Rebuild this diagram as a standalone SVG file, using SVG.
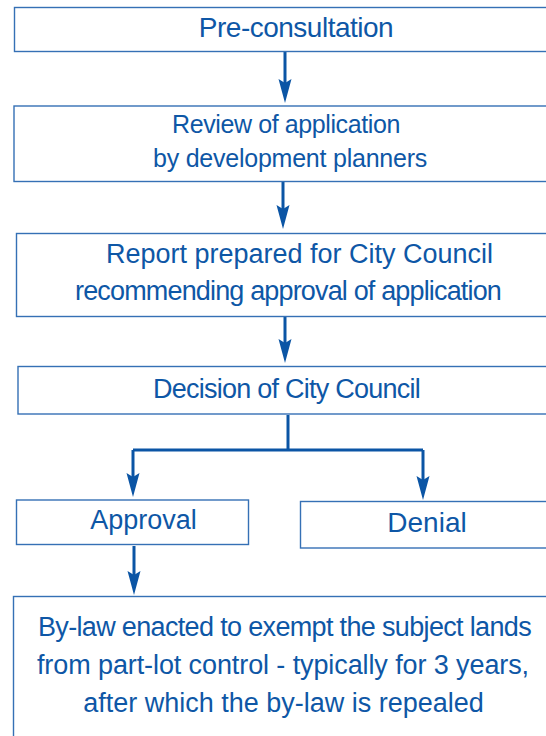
<svg xmlns="http://www.w3.org/2000/svg" width="546" height="736" viewBox="0 0 546 736">
<defs>
<style>
.box{fill:#ffffff;stroke:#3570b5;stroke-width:1.4}
.t{font-family:"Liberation Sans",Arial,sans-serif;fill:#0e57a6;text-anchor:middle;font-size:27px}
.c{stroke:#0b55a5;stroke-width:3;fill:none}
</style>
<marker id="ah" viewBox="0 0 24 14" refX="14" refY="7" markerWidth="24" markerHeight="14" markerUnits="userSpaceOnUse" orient="auto">
<path d="M0,0.5 L24,7 L0,13.5 L4,7 Z" fill="#0b55a5"/>
</marker>
</defs>
<rect width="546" height="736" fill="#ffffff"/>
<g id="connectors">
<path class="c" d="M285,52 V93" marker-end="url(#ah)"/>
<path class="c" d="M283,182 V219" marker-end="url(#ah)"/>
<path class="c" d="M285,317 V353" marker-end="url(#ah)"/>
<path class="c" d="M288,415 V450"/>
<path class="c" d="M133,450 H423"/>
<path class="c" d="M133,450 V487" marker-end="url(#ah)"/>
<path class="c" d="M423,450 V490" marker-end="url(#ah)"/>
<path class="c" d="M134,546 V585" marker-end="url(#ah)"/>
</g>
<g id="pre-consultation">
<rect class="box" x="14.5" y="7.5" width="540" height="44"/>
<text class="t" x="296" y="36.5" style="font-size:28px" letter-spacing="-0.5">Pre-consultation</text>
</g>
<g id="review">
<rect class="box" x="14" y="106" width="540" height="75.5"/>
<text class="t" x="286" y="132.5" style="font-size:25px" letter-spacing="-0.4">Review of application</text>
<text class="t" x="290" y="166.5" style="font-size:25px" letter-spacing="-0.23">by development planners</text>
</g>
<g id="report">
<rect class="box" x="16.5" y="233.5" width="540" height="83"/>
<text class="t" x="299.5" y="263" letter-spacing="0">Report prepared for City Council</text>
<text class="t" x="288" y="299.5" letter-spacing="-0.84">recommending approval of application</text>
</g>
<g id="decision">
<rect class="box" x="18" y="366.5" width="540" height="47.5"/>
<text class="t" x="286.5" y="398" letter-spacing="-0.75">Decision of City Council</text>
</g>
<g id="approval">
<rect class="box" x="16.5" y="500" width="232" height="44.5"/>
<text class="t" x="143.5" y="528.5">Approval</text>
</g>
<g id="denial">
<rect class="box" x="300.5" y="501.5" width="260" height="46.5"/>
<text class="t" x="427" y="531.5" style="font-size:28px">Denial</text>
</g>
<g id="bylaw">
<rect class="box" x="13.5" y="596.5" width="545" height="160"/>
<text class="t" x="284.5" y="635.5" letter-spacing="-0.66">By-law enacted to exempt the subject lands</text>
<text class="t" x="283" y="674" letter-spacing="-0.1">from part-lot control - typically for 3 years,</text>
<text class="t" x="283.5" y="712" letter-spacing="0">after which the by-law is repealed</text>
</g>
</svg>
